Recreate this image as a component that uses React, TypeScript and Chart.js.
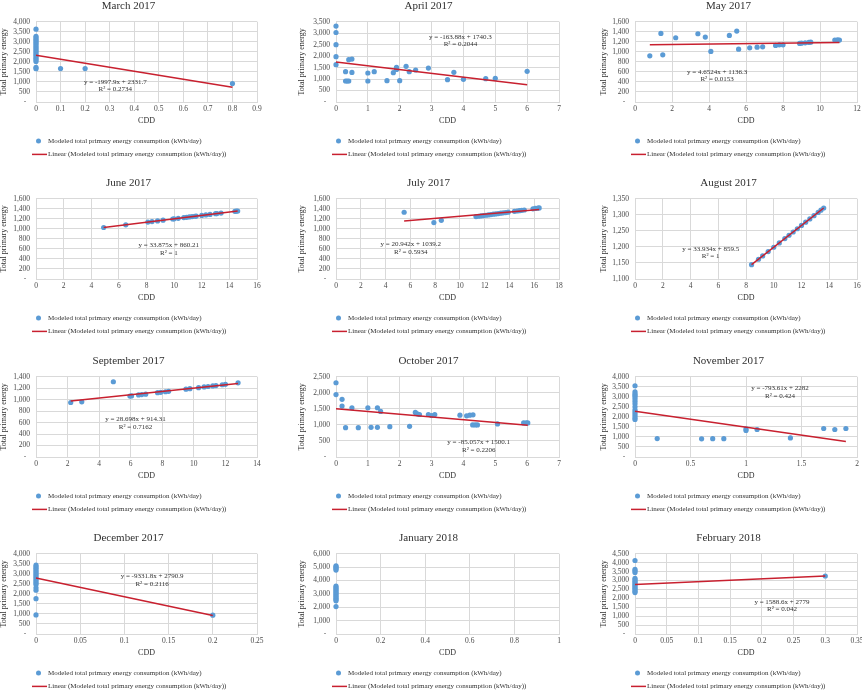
import { useEffect, useRef } from 'react';
import { Chart, registerables } from 'chart.js';

Chart.register(...registerables);

const SERIF = '"Liberation Serif", "Times New Roman", serif';
const TEXT = '#303030';
const TICK = '#4a4a4a';
const GRID = '#D9D9D9';
const POINT_BLUE = '#5B9BD5';
const TREND_RED = '#C8202F';

const POINT_LABEL = 'Modeled total primary energy consumption (kWh/day)';
const TREND_LABEL = 'Linear (Modeled total primary energy consumption (kWh/day))';

const TITLES = [
  'March 2017', 'April 2017', 'May 2017',
  'June 2017', 'July 2017', 'August 2017',
  'September 2017', 'October 2017', 'November 2017',
  'December 2017', 'January 2018', 'February 2018',
];

// Daily cooling degree days and modeled energy use (kWh/day), month by month
const cddMar17 = [0, 0, 0, 0, 0, 0, 0, 0, 0, 0, 0, 0, 0, 0, 0, 0, 0, 0, 0, 0, 0.1, 0.2, 0.8];
const energyMar17 = [3630, 3270, 3200, 3120, 3050, 2980, 2900, 2820, 2740, 2660, 2580, 2500, 2420, 2340, 2260, 2180, 2100, 2020, 1720, 1660, 1667, 1667, 917];

const cddApr17 = [0, 0, 0, 0, 0, 0.3, 0.3, 0.35, 0.4, 0.4, 0.5, 0.5, 1.0, 1.0, 1.2, 1.6, 1.8, 1.9, 1.9, 2.0, 2.2, 2.3, 2.5, 2.9, 3.5, 3.7, 4.0, 4.7, 5.0, 6.0];
const energyApr17 = [3310, 3030, 2500, 1975, 1625, 1320, 915, 915, 915, 1845, 1870, 1290, 1265, 915, 1320, 930, 1280, 1420, 1510, 930, 1555, 1320, 1395, 1480, 975, 1295, 990, 1015, 1030, 1335];

const cddMay17 = [0.8, 1.4, 1.5, 2.2, 3.4, 3.8, 4.1, 5.1, 5.5, 5.6, 6.2, 6.6, 6.9, 7.6, 7.8, 8.0, 8.9, 9.0, 9.2, 9.4, 9.5, 10.8, 10.95, 11.05];
const energyMay17 = [920, 1367, 940, 1280, 1360, 1293, 1007, 1327, 1413, 1053, 1080, 1093, 1100, 1127, 1140, 1140, 1167, 1173, 1180, 1187, 1193, 1233, 1240, 1233];

const cddJun17 = [4.9, 6.5, 8.1, 8.4, 8.8, 9.2, 9.9, 10.0, 10.3, 10.7, 10.9, 11.1, 11.3, 11.5, 11.6, 12.0, 12.3, 12.6, 13.0, 13.1, 13.4, 14.4, 14.5, 14.6];
const energyJun17 = [1026, 1080, 1135, 1145, 1158, 1172, 1196, 1199, 1209, 1223, 1229, 1236, 1243, 1250, 1253, 1267, 1277, 1287, 1301, 1304, 1314, 1348, 1351, 1355];

const cddJul17 = [5.5, 7.9, 8.5, 11.3, 11.5, 11.7, 11.9, 12.1, 12.3, 12.5, 12.7, 12.9, 13.1, 13.3, 13.5, 13.7, 13.9, 14.4, 14.6, 14.8, 15.0, 15.2, 15.9, 16.1, 16.3, 16.4];
const energyJul17 = [1330, 1125, 1170, 1243, 1250, 1257, 1263, 1270, 1277, 1284, 1291, 1297, 1304, 1311, 1318, 1324, 1331, 1348, 1355, 1362, 1369, 1375, 1399, 1406, 1413, 1416];

const cddAug17 = [8.4, 8.9, 9.2, 9.6, 10.0, 10.4, 10.8, 11.1, 11.4, 11.7, 12.0, 12.3, 12.6, 12.9, 13.2, 13.4, 13.6];
const energyAug17 = [1144.5, 1161.5, 1171.7, 1185.3, 1198.8, 1212.4, 1226.0, 1236.2, 1246.4, 1256.5, 1266.7, 1276.9, 1287.1, 1297.3, 1307.4, 1314.2, 1321.0];

const cddSep17 = [2.2, 2.9, 4.9, 5.95, 6.05, 6.5, 6.7, 6.95, 7.7, 7.9, 8.2, 8.4, 9.5, 9.75, 10.3, 10.65, 10.9, 11.2, 11.4, 11.8, 12.0, 12.8];
const energySep17 = [950, 962, 1312, 1062, 1065, 1082, 1088, 1096, 1121, 1128, 1138, 1145, 1182, 1191, 1209, 1221, 1229, 1240, 1246, 1260, 1267, 1294];

const cddOct17 = [0, 0, 0.19, 0.19, 0.3, 0.5, 0.7, 1.0, 1.1, 1.3, 1.3, 1.4, 1.69, 2.31, 2.49, 2.55, 2.62, 2.9, 3.0, 3.1, 3.89, 4.1, 4.2, 4.3, 4.29, 4.37, 4.44, 5.07, 5.89, 5.97, 6.02];
const energyOct17 = [2311, 1943, 1796, 1586, 914, 1534, 914, 1534, 924, 1534, 924, 1418, 945, 956, 1387, 1345, 1323, 1323, 1292, 1323, 1303, 1282, 1303, 1313, 998, 998, 998, 1029, 1061, 1061, 1061];

const cddNov17 = [0, 0, 0, 0, 0, 0, 0, 0, 0, 0, 0, 0, 0, 0, 0, 0.2, 0.6, 0.7, 0.8, 1.0, 1.0, 1.1, 1.4, 1.7, 1.8, 1.9];
const energyNov17 = [3550, 3250, 3150, 3080, 3000, 2900, 2780, 2650, 2500, 2350, 2250, 2150, 2050, 1950, 1870, 920, 905, 915, 915, 1400, 1320, 1370, 950, 1420, 1370, 1420];

const cddDec17 = [0, 0, 0, 0, 0, 0, 0, 0, 0, 0, 0, 0, 0, 0, 0, 0, 0, 0.2];
const energyDec17 = [3430, 3350, 3270, 3190, 3110, 3030, 2950, 2870, 2790, 2700, 2620, 2540, 2460, 2300, 2180, 1760, 950, 940];

const cddJan18 = [0, 0, 0, 0, 0, 0, 0, 0, 0, 0, 0, 0, 0, 0, 0, 0, 0, 0];
const energyJan18 = [5100, 5020, 4950, 4870, 4780, 3580, 3480, 3380, 3280, 3180, 3080, 2980, 2880, 2780, 2680, 2580, 2480, 2050];

const cddFeb18 = [0, 0, 0, 0, 0, 0, 0, 0, 0, 0, 0, 0, 0, 0, 0, 0.3];
const energyFeb18 = [4120, 3620, 3540, 3450, 3120, 3040, 2960, 2880, 2800, 2720, 2640, 2560, 2480, 2400, 2320, 3250];

// Linear trend fits (y = slope * CDD + intercept); January has no fit
const SLOPES = [-1997.9, -163.88, 4.6524, 33.875, 20.942, 33.934, 28.698, -85.057, -793.61, -9331.8, null, 1588.6];
const INTERCEPTS = [2331.7, 1740.3, 1136.3, 860.21, 1039.2, 859.5, 914.31, 1500.1, 2282, 2790.9, null, 2779];
const R_SQUARED = [0.2734, 0.2044, 0.0153, 1, 0.5934, 1, 0.7162, 0.2206, 0.424, 0.2116, null, 0.042];

// Axis ranges
const X_MAX = [0.9, 7, 12, 16, 18, 16, 14, 7, 2, 0.25, 1, 0.35];
const X_STEP = [0.1, 1, 2, 2, 2, 2, 2, 1, 0.5, 0.05, 0.2, 0.05];
const Y_MIN = [0, 0, 0, 0, 0, 1100, 0, 0, 0, 0, 0, 0];
const Y_MAX = [4000, 3500, 1600, 1600, 1600, 1350, 1400, 2500, 4000, 4000, 6000, 4500];
const Y_STEP = [500, 500, 200, 200, 200, 50, 200, 500, 500, 500, 1000, 500];

const SERIES = [
  [cddMar17, energyMar17], [cddApr17, energyApr17], [cddMay17, energyMay17],
  [cddJun17, energyJun17], [cddJul17, energyJul17], [cddAug17, energyAug17],
  [cddSep17, energySep17], [cddOct17, energyOct17], [cddNov17, energyNov17],
  [cddDec17, energyDec17], [cddJan18, energyJan18], [cddFeb18, energyFeb18],
];

// Panel geometry
const COL_LEFT = [0, 298, 600];
const COL_WIDTH = [267, 271, 267];
const COL_AXIS_W = [36, 38, 35];
const ROW_TOP = [0, 177, 355, 532];
const PANEL_H = 170;

// Where the fit equation sits, as fractions of the plot area
const EQ_SPOT: (number[] | null)[] = [
  [0.359, 0.75], [0.558, 0.187], [0.37, 0.625],
  [0.601, 0.58], [0.335, 0.57], [0.341, 0.625],
  [0.45, 0.53], [0.64, 0.82], [0.653, 0.147],
  [0.525, 0.285], null, [0.662, 0.6],
];

const overlayPlugin = {
  id: 'panelOverlay',
  afterDraw(chart: any, _args: any, opts: any) {
    const { ctx, chartArea } = chart;
    ctx.save();
    ctx.font = `7px ${SERIF}`;
    ctx.fillStyle = TEXT;
    ctx.textBaseline = 'middle';

    if (opts.lines && opts.spot) {
      const cx = chartArea.left + opts.spot[0] * (chartArea.right - chartArea.left);
      const cy = chartArea.top + opts.spot[1] * (chartArea.bottom - chartArea.top);
      ctx.textAlign = 'center';
      opts.lines.forEach((t: string, i: number) => ctx.fillText(t, cx, cy + i * 7.5));
    }

    const [pts, trend] = chart.data.datasets;
    const tx = chartArea.left + 12;
    const y1 = chartArea.bottom + 39;
    const y2 = chartArea.bottom + 52.4;
    ctx.beginPath();
    ctx.arc(tx - 9.5, y1, 2.5, 0, Math.PI * 2);
    ctx.fillStyle = pts.backgroundColor;
    ctx.fill();
    ctx.beginPath();
    ctx.moveTo(tx - 16, y2);
    ctx.lineTo(tx - 1, y2);
    ctx.strokeStyle = trend.borderColor;
    ctx.lineWidth = 1.5;
    ctx.stroke();
    ctx.fillStyle = TEXT;
    ctx.textAlign = 'left';
    ctx.fillText(pts.label, tx, y1);
    ctx.fillText(trend.label, tx, y2);
    ctx.restore();
  },
};

function buildConfig(i: number): any {
  const col = i % 3;
  const [cdd, energy] = SERIES[i];
  const points = cdd.map((x, k) => ({ x, y: energy[k] }));
  const slope = SLOPES[i];
  const intercept = INTERCEPTS[i];
  let trend: { x: number; y: number }[] = [];
  let lines: string[] | null = null;
  if (slope !== null && intercept !== null) {
    const x0 = Math.min(...cdd);
    const x1 = Math.max(...cdd);
    trend = [
      { x: x0, y: slope * x0 + intercept },
      { x: x1, y: slope * x1 + intercept },
    ];
    lines = [`y = ${slope}x + ${intercept}`, `R\u00B2 = ${R_SQUARED[i]}`];
  }

  return {
    type: 'scatter',
    data: {
      datasets: [
        {
          label: POINT_LABEL,
          data: points,
          backgroundColor: POINT_BLUE,
          borderColor: POINT_BLUE,
          pointRadius: 2.6,
          pointBorderWidth: 0,
          clip: false,
          order: 2,
        },
        {
          label: TREND_LABEL,
          data: trend,
          showLine: true,
          borderColor: TREND_RED,
          backgroundColor: TREND_RED,
          borderWidth: 1.5,
          pointRadius: 0,
          clip: false,
          order: 1,
        },
      ],
    },
    options: {
      responsive: false,
      animation: false,
      events: [],
      layout: { padding: { left: 0, right: 10, top: 0, bottom: 45 } },
      plugins: {
        legend: { display: false },
        tooltip: { enabled: false },
        title: {
          display: true,
          text: TITLES[i],
          color: TEXT,
          font: { family: SERIF, size: 11, weight: 'normal', lineHeight: 1 },
          padding: { top: 0.2, bottom: 10.5 },
        },
        panelOverlay: { lines, spot: EQ_SPOT[i] },
      },
      scales: {
        x: {
          type: 'linear',
          position: 'bottom',
          min: 0,
          max: X_MAX[i],
          afterFit: (s: any) => { s.height = 23; },
          ticks: {
            stepSize: X_STEP[i],
            autoSkip: false,
            maxRotation: 0,
            padding: 3,
            color: TICK,
            font: { family: SERIF, size: 7.5 },
            callback: (v: any) => String(Math.round(Number(v) * 1000) / 1000),
          },
          grid: { color: GRID, drawTicks: false },
          border: { color: GRID },
          title: {
            display: true,
            text: 'CDD',
            color: TEXT,
            padding: 0,
            font: { family: SERIF, size: 8, lineHeight: 1 },
          },
        },
        y: {
          type: 'linear',
          min: Y_MIN[i],
          max: Y_MAX[i],
          afterFit: (s: any) => { s.width = COL_AXIS_W[col]; },
          ticks: {
            stepSize: Y_STEP[i],
            autoSkip: false,
            padding: 6,
            color: TICK,
            font: { family: SERIF, size: 7.5 },
            callback: (v: any) => (Number(v) === 0 ? '-  ' : Number(v).toLocaleString('en-US')),
          },
          grid: { color: GRID, drawTicks: false },
          border: { color: GRID },
          title: {
            display: true,
            text: 'Total primary energy',
            color: TEXT,
            padding: 0,
            font: { family: SERIF, size: 8, lineHeight: 1 },
          },
        },
      },
    },
    plugins: [overlayPlugin],
  };
}

function Panel({ index }: { index: number }) {
  const ref = useRef<HTMLCanvasElement>(null);
  const col = index % 3;
  const row = Math.floor(index / 3);
  useEffect(() => {
    if (!ref.current) return;
    const chart = new Chart(ref.current, buildConfig(index));
    return () => chart.destroy();
  }, [index]);
  return (
    <canvas
      ref={ref}
      width={COL_WIDTH[col]}
      height={PANEL_H}
      style={{
        position: 'absolute',
        left: COL_LEFT[col],
        top: ROW_TOP[row],
        width: COL_WIDTH[col],
        height: PANEL_H,
      }}
    />
  );
}

export default function App() {
  return (
    <div
      style={{
        position: 'absolute',
        left: 0,
        top: 0,
        width: 862,
        height: 692,
        overflow: 'hidden',
        background: '#ffffff',
      }}
    >
      {TITLES.map((_, i) => (
        <Panel key={i} index={i} />
      ))}
    </div>
  );
}
